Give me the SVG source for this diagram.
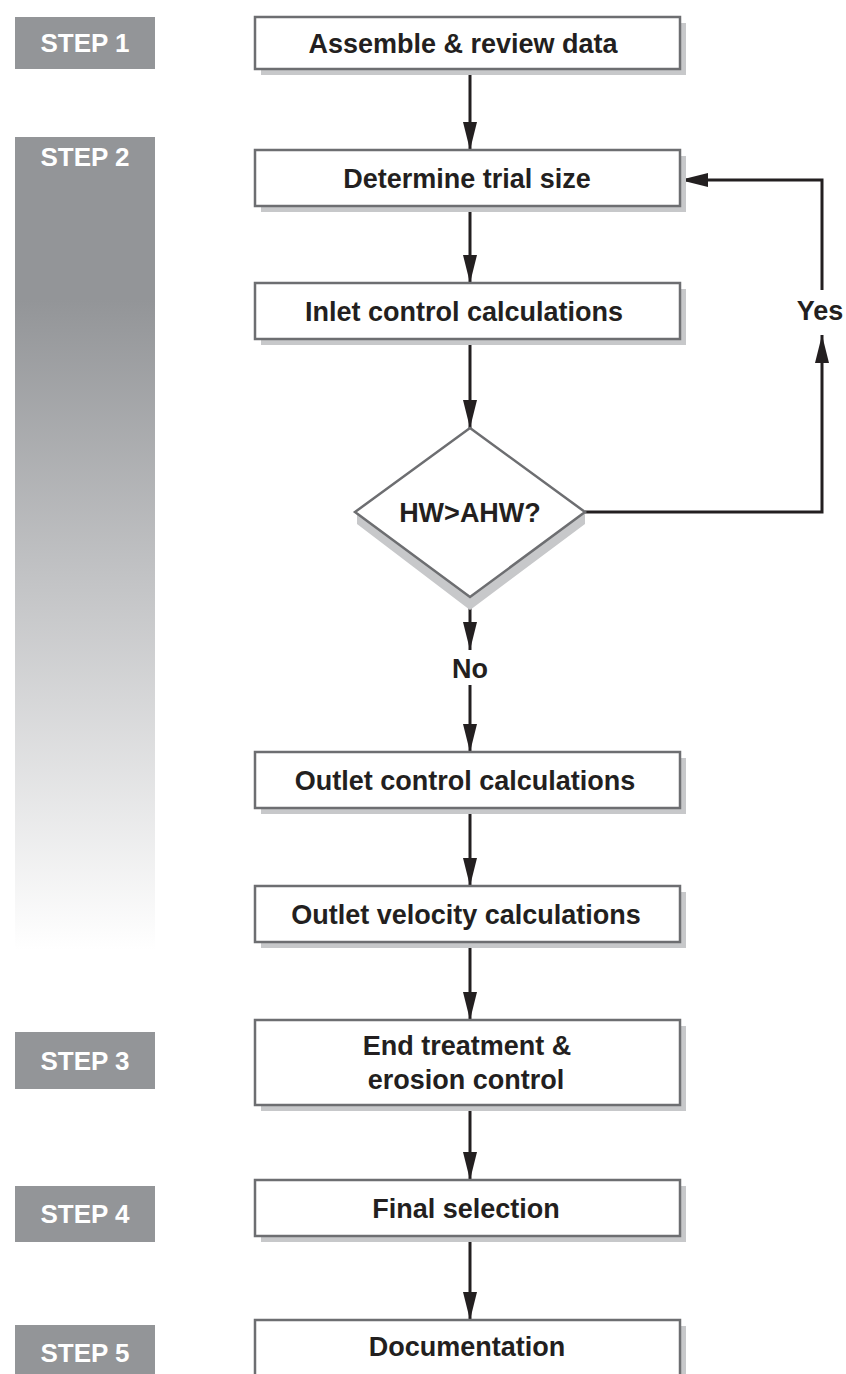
<svg xmlns="http://www.w3.org/2000/svg" width="846" height="1374" viewBox="0 0 846 1374">
<defs>
<linearGradient id="g2" x1="0" y1="137" x2="0" y2="950" gradientUnits="userSpaceOnUse">
<stop offset="0" stop-color="#939598"/>
<stop offset="0.2" stop-color="#939598"/>
<stop offset="0.55" stop-color="#c3c4c6"/>
<stop offset="1" stop-color="#ffffff"/>
</linearGradient>
<marker id="arr" viewBox="0 0 28 14" refX="28" refY="7" markerWidth="28" markerHeight="14" markerUnits="userSpaceOnUse" orient="auto">
<path d="M0,0 L28,7 L0,14 Z" fill="#231f20"/>
</marker>
</defs>
<style>
.step{fill:#939598}
.stxt{font-family:"Liberation Sans",Arial,sans-serif;font-weight:bold;font-size:26px;fill:#ffffff;text-anchor:middle}
.box{fill:#ffffff;stroke:#6d6e71;stroke-width:2.5}
.shd{fill:#c7c8ca}
.txt{font-family:"Liberation Sans",Arial,sans-serif;font-weight:bold;font-size:27px;fill:#231f20;text-anchor:middle}
.con{fill:none;stroke:#231f20;stroke-width:3}
</style>
<rect width="846" height="1374" fill="#ffffff"/>

<g id="step1"><rect class="step" x="15" y="17" width="140" height="52"/><text class="stxt" x="85" y="52">STEP 1</text></g>
<g id="step2"><rect x="15" y="137" width="140" height="813" fill="url(#g2)"/><text class="stxt" x="85" y="166">STEP 2</text></g>
<g id="step3"><rect class="step" x="15" y="1032" width="140" height="57"/><text class="stxt" x="85" y="1070">STEP 3</text></g>
<g id="step4"><rect class="step" x="15" y="1186" width="140" height="56"/><text class="stxt" x="85" y="1223">STEP 4</text></g>
<g id="step5"><rect class="step" x="15" y="1325" width="140" height="49"/><text class="stxt" x="85" y="1362">STEP 5</text></g>

<g id="connectors">
<line class="con" x1="470" y1="69" x2="470" y2="150" marker-end="url(#arr)"/>
<line class="con" x1="470" y1="207" x2="470" y2="283" marker-end="url(#arr)"/>
<line class="con" x1="470" y1="339" x2="470" y2="428" marker-end="url(#arr)"/>
<polyline class="con" points="585,512 822,512 822,335" marker-end="url(#arr)"/>
<polyline class="con" points="822,290 822,180 680,180" marker-end="url(#arr)"/>
<line class="con" x1="470" y1="597" x2="470" y2="650" marker-end="url(#arr)"/>
<line class="con" x1="470" y1="685" x2="470" y2="752" marker-end="url(#arr)"/>
<line class="con" x1="470" y1="808" x2="470" y2="886" marker-end="url(#arr)"/>
<line class="con" x1="470" y1="942" x2="470" y2="1020" marker-end="url(#arr)"/>
<line class="con" x1="470" y1="1105" x2="470" y2="1180" marker-end="url(#arr)"/>
<line class="con" x1="470" y1="1236" x2="470" y2="1320" marker-end="url(#arr)"/>
<text class="txt" x="820" y="320">Yes</text>
<text class="txt" x="470" y="678">No</text>
</g>

<g id="n1"><rect class="shd" x="261" y="23" width="425" height="52"/><rect class="box" x="255" y="17" width="425" height="52"/><text class="txt" x="463" y="53">Assemble &amp; review data</text></g>
<g id="n2"><rect class="shd" x="261" y="156" width="425" height="56"/><rect class="box" x="255" y="150" width="425" height="56"/><text class="txt" x="467" y="188">Determine trial size</text></g>
<g id="n3"><rect class="shd" x="261" y="289" width="425" height="56"/><rect class="box" x="255" y="283" width="425" height="56"/><text class="txt" x="464" y="321">Inlet control calculations</text></g>
<g id="n4"><polygon class="shd" points="357,524 470,610 585,524 585,512 470,597 357,512"/><polygon class="box" points="470,428 585,512 470,597 355,512"/><text class="txt" x="470" y="522">HW&gt;AHW?</text></g>
<g id="n5"><rect class="shd" x="261" y="758" width="425" height="56"/><rect class="box" x="255" y="752" width="425" height="56"/><text class="txt" x="465" y="790">Outlet control calculations</text></g>
<g id="n6"><rect class="shd" x="261" y="892" width="425" height="56"/><rect class="box" x="255" y="886" width="425" height="56"/><text class="txt" x="466" y="924">Outlet velocity calculations</text></g>
<g id="n7"><rect class="shd" x="261" y="1026" width="425" height="85"/><rect class="box" x="255" y="1020" width="425" height="85"/><text class="txt" x="467" y="1055">End treatment &amp;</text><text class="txt" x="466" y="1089">erosion control</text></g>
<g id="n8"><rect class="shd" x="261" y="1186" width="425" height="56"/><rect class="box" x="255" y="1180" width="425" height="56"/><text class="txt" x="466" y="1218">Final selection</text></g>
<g id="n9"><rect class="shd" x="261" y="1326" width="425" height="56"/><rect class="box" x="255" y="1320" width="425" height="56"/><text class="txt" x="467" y="1356">Documentation</text></g>
</svg>
